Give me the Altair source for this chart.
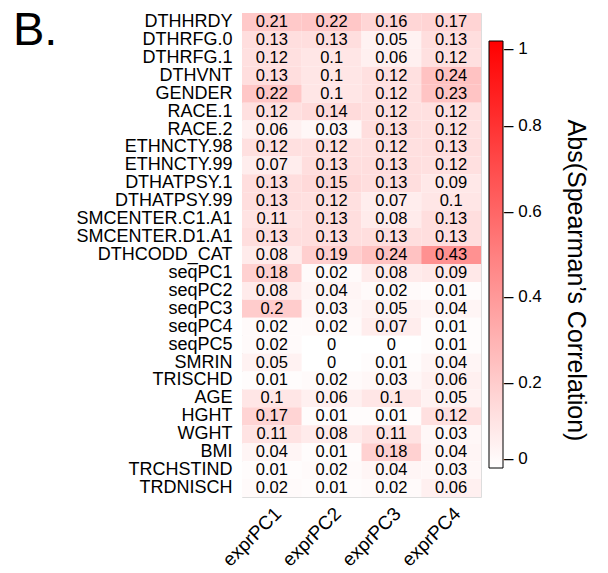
import altair as alt
import pandas as pd

rows = ["DTHHRDY", "DTHRFG.0", "DTHRFG.1", "DTHVNT", "GENDER", "RACE.1", "RACE.2",
        "ETHNCTY.98", "ETHNCTY.99", "DTHATPSY.1", "DTHATPSY.99", "SMCENTER.C1.A1",
        "SMCENTER.D1.A1", "DTHCODD_CAT", "seqPC1", "seqPC2", "seqPC3", "seqPC4", "seqPC5",
        "SMRIN", "TRISCHD", "AGE", "HGHT", "WGHT", "BMI", "TRCHSTIND", "TRDNISCH"]
cols = ["exprPC1", "exprPC2", "exprPC3", "exprPC4"]

exprPC1 = [0.21, 0.13, 0.12, 0.13, 0.22, 0.12, 0.06, 0.12, 0.07, 0.13, 0.13, 0.11, 0.13, 0.08,
           0.18, 0.08, 0.2, 0.02, 0.02, 0.05, 0.01, 0.1, 0.17, 0.11, 0.04, 0.01, 0.02]
exprPC2 = [0.22, 0.13, 0.1, 0.1, 0.1, 0.14, 0.03, 0.12, 0.13, 0.15, 0.12, 0.13, 0.13, 0.19,
           0.02, 0.04, 0.03, 0.02, 0, 0, 0.02, 0.06, 0.01, 0.08, 0.01, 0.02, 0.01]
exprPC3 = [0.16, 0.05, 0.06, 0.12, 0.12, 0.12, 0.13, 0.12, 0.13, 0.13, 0.07, 0.08, 0.13, 0.24,
           0.08, 0.02, 0.05, 0.07, 0, 0.01, 0.03, 0.1, 0.01, 0.11, 0.18, 0.04, 0.02]
exprPC4 = [0.17, 0.13, 0.12, 0.24, 0.23, 0.12, 0.12, 0.13, 0.12, 0.09, 0.1, 0.13, 0.13, 0.43,
           0.09, 0.01, 0.04, 0.01, 0.01, 0.04, 0.06, 0.05, 0.12, 0.03, 0.04, 0.03, 0.06]
legend_ticks = [0, 0.2, 0.4, 0.6, 0.8, 1]
legend_title = "Abs(Spearman’s Correlation)"

series = {"exprPC1": exprPC1, "exprPC2": exprPC2, "exprPC3": exprPC3, "exprPC4": exprPC4}
records = []
for c in cols:
    for r, v in zip(rows, series[c]):
        records.append({"row": r, "col": c, "value": v})
df = pd.DataFrame(records)

FONT = "Liberation Sans"

xenc = alt.X("col:N", sort=cols, title=None,
             axis=alt.Axis(labelAngle=-45, labelFontSize=19, labelPadding=7, ticks=False,
                           domain=False, labelColor="black", labelFont=FONT))

rects = alt.Chart(df).mark_rect().encode(
    x=xenc,
    y=alt.Y("row:N", sort=rows, title=None,
            axis=alt.Axis(labelFontSize=18, labelPadding=10, ticks=False, domain=False,
                          labelColor="black", labelFont=FONT, labelLimit=400)),
    color=alt.Color("value:Q",
                    scale=alt.Scale(domain=[0, 1], range=["#ffffff", "#ff0000"],
                                    interpolate="rgb"),
                    legend=alt.Legend(
                        title=None,
                        orient="none", legendX=247, legendY=28,
                        direction="vertical",
                        gradientLength=427, gradientThickness=14,
                        gradientStrokeColor="black", gradientStrokeWidth=1,
                        values=legend_ticks,
                        labelExpr="'– ' + format(datum.value, '~g')",
                        labelFontSize=17, labelFont=FONT, labelColor="black",
                        labelOffset=1,
                    ))
)

texts = alt.Chart(df).mark_text(fontSize=16.5, font=FONT, color="black").encode(
    x=xenc,
    y=alt.Y("row:N", sort=rows,
            axis=alt.Axis(orient="right", labels=False, ticks=False, domain=False,
                          title=legend_title, titleAngle=90, titleX=94, titleY=267,
                          titleAlign="center", titleBaseline="middle",
                          titleFontSize=25, titleFontWeight="normal", titleFont=FONT,
                          titleColor="black")),
    text=alt.Text("value:Q", format="~g"),
)

chart = (rects + texts).resolve_axis(y="independent").properties(
    width=239, height=484,
    title=alt.TitleParams("B.", anchor="start", fontSize=47, font=FONT,
                          fontWeight="normal", color="black", dx=-229, dy=84,
                          baseline="alphabetic", frame="group"),
    autosize=alt.AutoSizeParams(type="none"),
    padding={"left": 242, "top": 13, "right": 127, "bottom": 76},
).configure_view(stroke="black", strokeWidth=1).configure(background="white")

chart.save("out.html", embed_options={"renderer": "svg", "actions": False})
